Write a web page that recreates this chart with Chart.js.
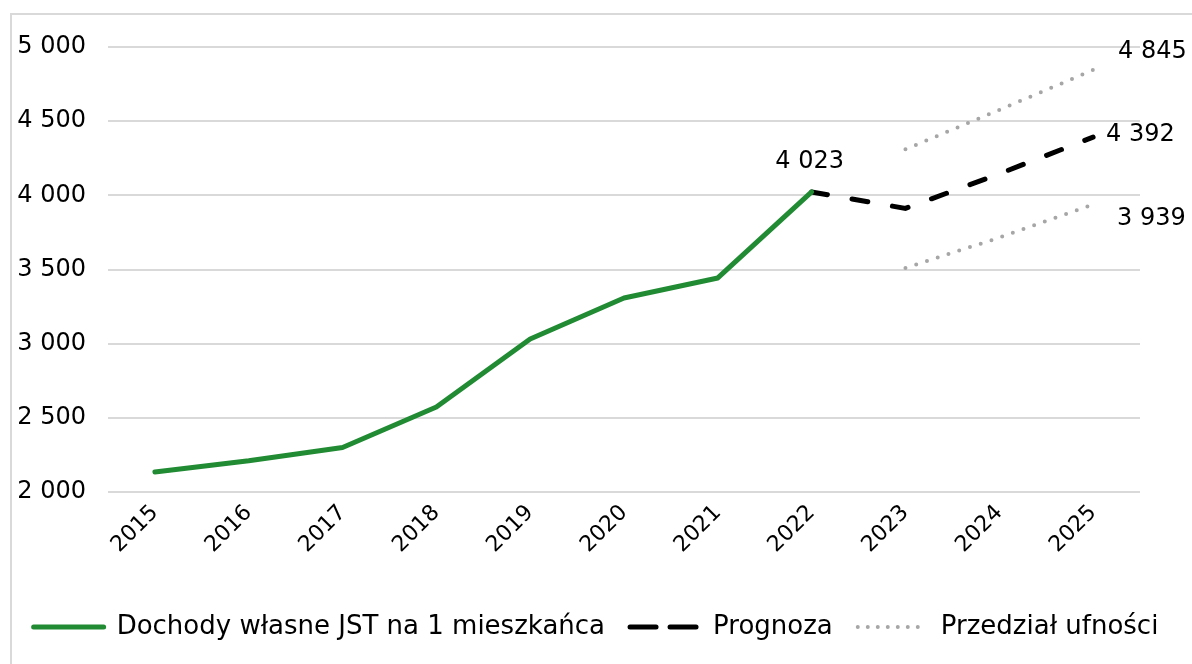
<!DOCTYPE html>
<html>
<head>
<meta charset="utf-8">
<script src="https://cdn.jsdelivr.net/npm/chart.js@4"></script>
<style>
  body { margin: 0; background: #fff; }
  #frame { position: absolute; left: 10px; top: 13px; width: 1300px; height: 800px; border: 2px solid #d9d9d9; }
  #wrap { position: absolute; left: 0; top: 0; width: 1192px; height: 664px; }
</style>
</head>
<body>
<div id="frame"></div>
<div id="wrap"><canvas id="chart"></canvas></div>
<script>
  var years = ["2015", "2016", "2017", "2018", "2019", "2020", "2021", "2022", "2023", "2024", "2025"];
  var dochody = [2135, 2210, 2300, 2573, 3032, 3308, 3443, 4023, null, null, null];
  var prognoza = [null, null, null, null, null, null, null, 4023, 3912, 4145, 4392];
  var gornaGranica = [null, null, null, null, null, null, null, null, 4310, 4576, 4845];
  var dolnaGranica = [null, null, null, null, null, null, null, null, 3510, 3715, 3939];
  var yTicks = [2000, 2500, 3000, 3500, 4000, 4500, 5000];

  var FONT = "'DejaVu Sans', sans-serif";
  var fmt = v => String(v).replace(/\B(?=(\d{3})+(?!\d))/g, " ");

  // labels next to chosen points: [dataset index, point index, dx, dy, align]
  var pointLabels = [
    [1, 7, -2, -30, "center"],
    [2, 10, 25, -18, "left"],
    [1, 10, 13, -2, "left"],
    [3, 10, 24, 14, "left"]
  ];

  var labelPlugin = {
    id: "pointLabels",
    afterDatasetsDraw(chart) {
      var c = chart.ctx;
      c.save();
      c.font = "24px " + FONT;
      c.fillStyle = "#000";
      c.textBaseline = "middle";
      pointLabels.forEach(([ds, i, dx, dy, align]) => {
        var pt = chart.getDatasetMeta(ds).data[i];
        c.textAlign = align;
        c.fillText(fmt(chart.data.datasets[ds].data[i]), pt.x + dx, pt.y + dy);
      });
      c.restore();
    }
  };

  new Chart(document.getElementById("chart").getContext("2d"), {
    type: "line",
    data: {
      labels: years,
      datasets: [{
        label: "Dochody własne JST na 1 mieszkańca",
        data: dochody,
        borderColor: "#218b34",
        borderWidth: 5,
        pointRadius: 0,
        borderCapStyle: "round",
        borderJoinStyle: "round"
      }, {
        label: "Prognoza",
        data: prognoza,
        borderColor: "#000",
        borderWidth: 5,
        pointRadius: 0,
        borderDash: [16, 25],
        borderCapStyle: "round"
      }, {
        label: "Przedział ufności",
        data: gornaGranica,
        borderColor: "#a6a6a6",
        borderWidth: 4,
        pointRadius: 0,
        borderDash: [0, 11.3],
        borderCapStyle: "round"
      }, {
        label: "dolna",
        data: dolnaGranica,
        borderColor: "#a6a6a6",
        borderWidth: 4,
        pointRadius: 0,
        borderDash: [0, 11.3],
        borderCapStyle: "round"
      }]
    },
    options: {
      responsive: true,
      maintainAspectRatio: false,
      animation: false,
      layout: { padding: { top: 47, right: 0, left: 0, bottom: 14 } },
      plugins: {
        legend: {
          position: "bottom",
          labels: {
            filter: item => item.datasetIndex < 3,
            usePointStyle: true,
            pointStyle: "line",
            pointStyleWidth: 70,
            boxHeight: 24,
            padding: 25,
            color: "#000",
            font: { family: FONT, size: 26 },
            generateLabels(chart) {
              return chart.data.datasets.map((ds, i) => ({
                text: ds.label,
                datasetIndex: i,
                strokeStyle: ds.borderColor,
                fillStyle: ds.borderColor,
                lineWidth: ds.borderWidth,
                lineDash: i === 1 ? [26, 14] : (i >= 2 ? [0, 10] : []),
                lineCap: "round",
                pointStyle: "line",
                fontColor: "#000"
              }));
            }
          }
        },
        tooltip: { enabled: false }
      },
      scales: {
        y: {
          min: 2000,
          max: 5000,
          afterBuildTicks: axis => { axis.ticks = yTicks.map(v => ({ value: v })); },
          afterFit: axis => { axis.width = 108; },
          border: { display: false },
          grid: { color: "#d9d9d9", lineWidth: 2, drawTicks: false },
          ticks: {
            padding: 22,
            color: "#000",
            font: { family: FONT, size: 24 },
            callback: v => fmt(v)
          }
        },
        // empty right axis, keeps room for the end labels
        y2: {
          position: "right",
          display: true,
          afterFit: axis => { axis.width = 52; },
          border: { display: false },
          grid: { display: false },
          ticks: { display: false }
        },
        x: {
          offset: true,
          afterFit: axis => { axis.height = 97; },
          border: { display: false },
          grid: { display: false },
          ticks: {
            minRotation: 45,
            maxRotation: 45,
            padding: 0,
            color: "#000",
            font: { family: FONT, size: 22 }
          }
        }
      }
    },
    plugins: [labelPlugin]
  });
</script>
</body>
</html>
